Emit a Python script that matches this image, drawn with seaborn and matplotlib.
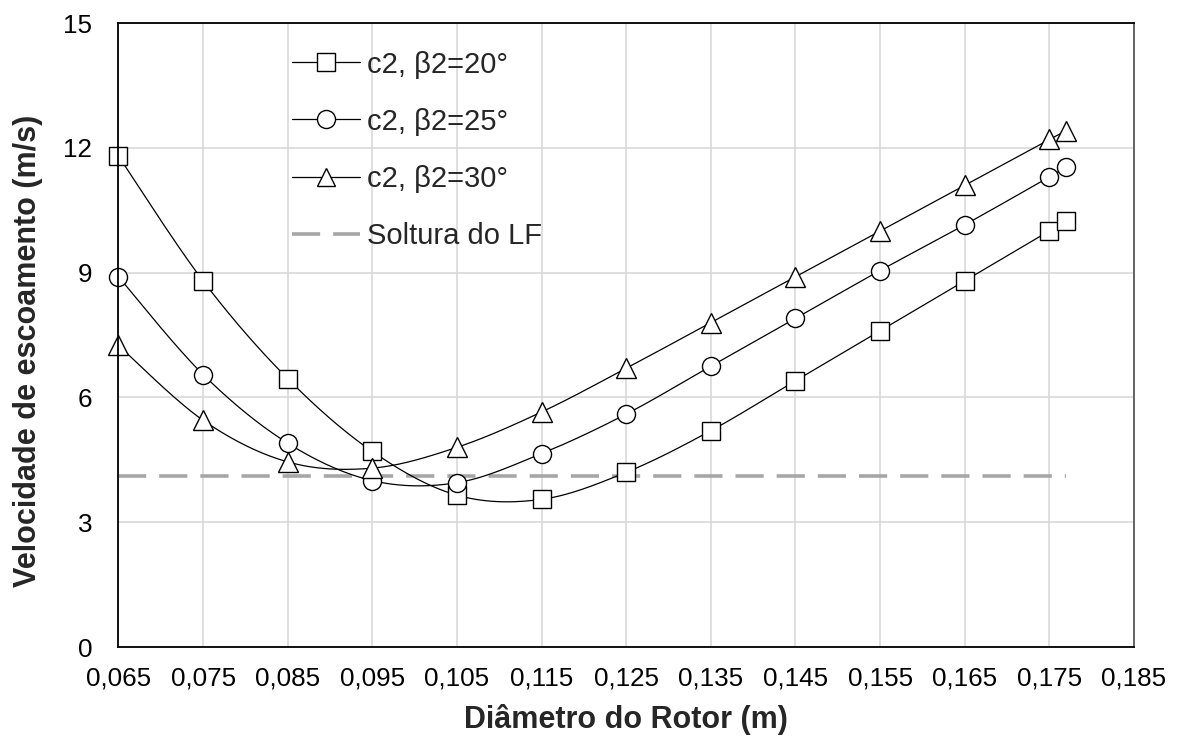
import numpy as np
import pandas as pd
import seaborn as sns
import matplotlib
matplotlib.use("Agg")
import matplotlib.pyplot as plt
from matplotlib.lines import Line2D

# ---- data ----
diametro = [0.065, 0.075, 0.085, 0.095, 0.105, 0.115, 0.125, 0.135, 0.145, 0.155, 0.165, 0.175, 0.177]
c2_b20 = [11.8, 8.8, 6.45, 4.7, 3.65, 3.55, 4.2, 5.2, 6.4, 7.6, 8.8, 10.0, 10.25]
c2_b25 = [8.9, 6.55, 4.9, 4.0, 3.95, 4.65, 5.6, 6.75, 7.9, 9.05, 10.15, 11.3, 11.55]
c2_b30 = [7.25, 5.45, 4.45, 4.3, 4.8, 5.65, 6.7, 7.8, 8.9, 10.0, 11.1, 12.2, 12.4]
soltura_x = [0.065, 0.177]
soltura_y = [4.1, 4.1]
labels = ["c2, β2=20°", "c2, β2=25°", "c2, β2=30°", "Soltura do LF"]
x_ticks = [0.065, 0.075, 0.085, 0.095, 0.105, 0.115, 0.125, 0.135, 0.145, 0.155, 0.165, 0.175, 0.185]
y_ticks = [0, 3, 6, 9, 12, 15]

sns.set_theme(style="white")
plt.rcParams['font.family'] = ['Liberation Sans', 'DejaVu Sans']

fig = plt.figure(figsize=(11.8, 7.42), dpi=100)
ax = fig.add_axes([0.1004, 0.128, 0.8606, 0.841])
ax.set_xlim(0.065, 0.185)
ax.set_ylim(0, 15)

XR, YR = 0.12 / 1015.0, 15.0 / 624.0  # data units per pixel


def smooth(xs, ys, n=30):
    """Excel-like smoothed line (Bezier through points) for drawing only."""
    P = np.column_stack([np.asarray(xs) / XR, np.asarray(ys) / YR])
    out = []
    for i in range(len(P) - 1):
        p0 = P[i - 1] if i > 0 else P[i]
        p1, p2 = P[i], P[i + 1]
        p3 = P[i + 2] if i + 2 < len(P) else P[i + 1]
        c1 = p1 + (p2 - p0) / 6.0
        c2 = p2 - (p3 - p1) / 6.0
        t = np.linspace(0, 1, n)[:, None]
        seg = ((1 - t) ** 3) * p1 + 3 * ((1 - t) ** 2) * t * c1 + 3 * (1 - t) * t ** 2 * c2 + t ** 3 * p2
        out.append(seg if i == 0 else seg[1:])
    S = np.vstack(out)
    return S[:, 0] * XR, S[:, 1] * YR


series = [(c2_b20, "s", 13), (c2_b25, "o", 13), (c2_b30, "^", 14)]
for ys, mk, ms in series:
    sx, sy = smooth(diametro, ys)
    sns.lineplot(x=sx, y=sy, sort=False, estimator=None, color="black", linewidth=0.9, ax=ax, zorder=3)
    ax.plot(diametro, ys, linestyle="none", marker=mk, markersize=ms, clip_on=False,
            markerfacecolor="white", markeredgecolor="black", markeredgewidth=1.0, zorder=4)

sns.lineplot(x=soltura_x, y=soltura_y, color="#A6A6A6", linewidth=2.6, ax=ax, zorder=2,
             dashes=False)
ax.lines[-1].set_dashes([7.8, 3.6])

ax.set_xticks(x_ticks)
ax.set_xticklabels([f"{v:.3f}".replace(".", ",") for v in x_ticks])
ax.set_yticks(y_ticks)
ax.grid(True, color="#D9D9D9", linewidth=1.2)
ax.set_axisbelow(True)
for s in ax.spines.values():
    s.set_visible(True)
    s.set_color("black")
    s.set_linewidth(1.3)
    s.set_zorder(5)
ax.spines["right"].set_color("#595959")
ax.tick_params(axis="both", length=0, labelsize=18.7, colors="black")
ax.tick_params(axis="y", pad=19)
ax.tick_params(axis="x", pad=14)

ax.set_xlabel("Diâmetro do Rotor (m)", fontsize=22, fontweight="bold", labelpad=10)
ax.set_ylabel("Velocidade de escoamento (m/s)", fontsize=22, fontweight="bold")
ax.yaxis.set_label_coords(-0.0744, 0.474)

handles = [
    Line2D([], [], color="black", linewidth=0.9, marker="s", markersize=13, markerfacecolor="white", markeredgecolor="black"),
    Line2D([], [], color="black", linewidth=0.9, marker="o", markersize=13, markerfacecolor="white", markeredgecolor="black"),
    Line2D([], [], color="black", linewidth=0.9, marker="^", markersize=13, markerfacecolor="white", markeredgecolor="black"),
    Line2D([], [], color="#A6A6A6", linewidth=2.6, dashes=[7.8, 3.6]),
]
leg = ax.legend(handles, labels, loc="upper left", bbox_to_anchor=(0.145, 0.998), frameon=False,
                fontsize=21, handlelength=2.33, handletextpad=0.25, labelspacing=1.0)

fig.savefig("out.png", dpi=100)
